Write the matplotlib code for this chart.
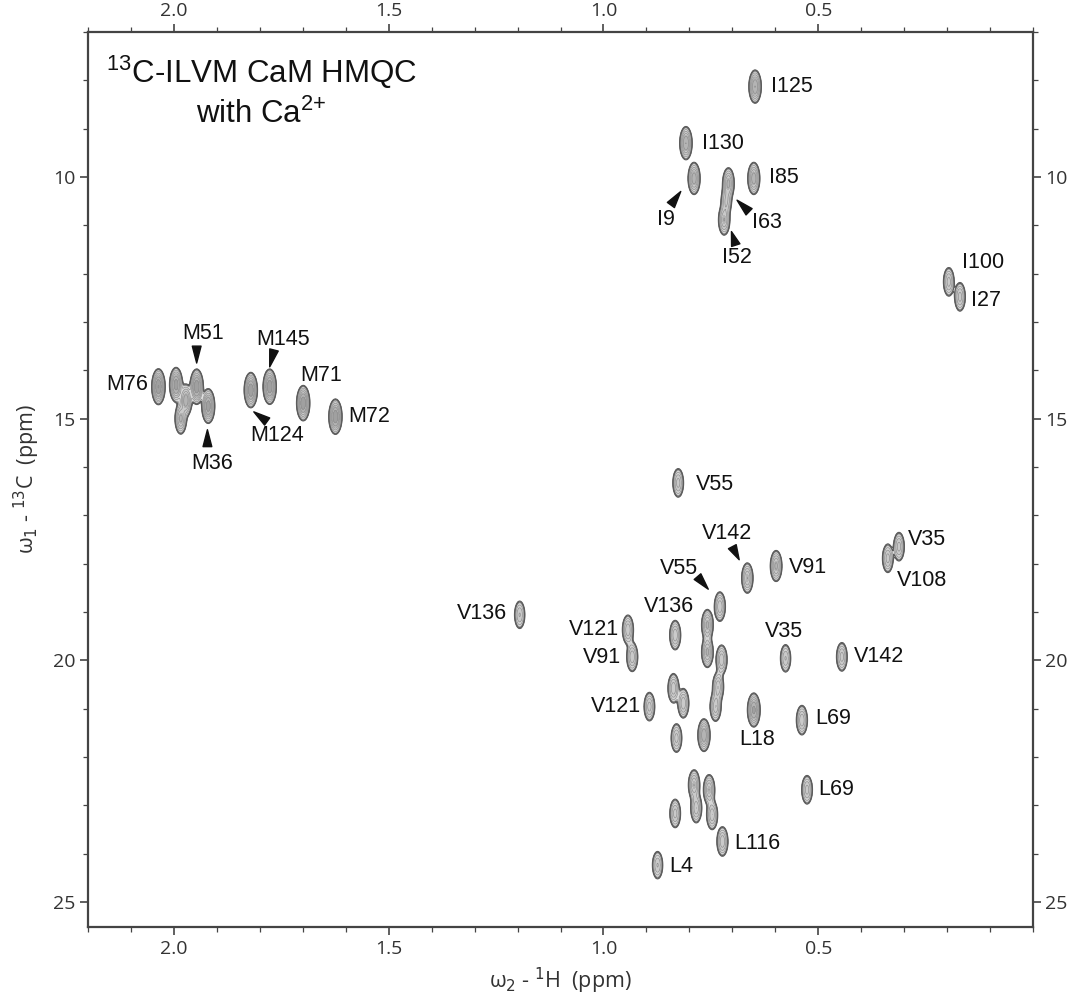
import numpy as np
import matplotlib
matplotlib.use("Agg")
import matplotlib.pyplot as plt
from matplotlib.ticker import FixedLocator, MultipleLocator

plt.rcParams['font.family'] = ['Liberation Sans', 'DejaVu Sans']
plt.rcParams['mathtext.fontset'] = 'custom'
plt.rcParams['mathtext.rm'] = 'Liberation Sans'
plt.rcParams['mathtext.it'] = 'Liberation Sans:italic'

# peak list: 1H shift, 13C shift, relative intensity
peak_h = [0.647, 0.808, 0.789, 0.709, 0.714, 0.719, 0.650, 0.196, 0.170,
          2.036, 1.995, 1.972, 1.984, 1.947, 1.920, 1.821, 1.777, 1.699, 1.624,
          0.826, 0.665, 0.598, 0.729, 0.833, 0.758, 0.758, 0.943, 0.933, 0.725,
          0.733, 0.739, 0.576, 0.445, 0.837, 0.814, 0.893, 0.650, 0.538, 0.830,
          0.766, 0.526, 0.789, 0.784, 0.754, 0.747, 0.833, 0.723, 0.874, 1.195,
          0.312, 0.338]
peak_c = [8.13, 9.30, 10.03, 10.13, 10.50, 10.89, 10.03, 12.17, 12.48,
          14.34, 14.30, 14.62, 15.00, 14.34, 14.74, 14.41, 14.34, 14.68, 14.96,
          16.33, 18.30, 18.05, 18.89, 19.48, 19.27, 19.83, 19.37, 19.93, 19.99,
          20.55, 20.96, 19.96, 19.93, 20.58, 20.89, 20.96, 21.03, 21.24, 21.61,
          21.55, 22.68, 22.58, 23.06, 22.68, 23.20, 23.17, 23.75, 24.24, 19.06,
          17.65, 17.89]
peak_amp = [14, 14, 12, 10, 6, 9, 12, 7, 7,
            22, 18, 12, 10, 20, 18, 20, 20, 20, 20,
            7, 9, 10, 8, 8, 10, 10, 8, 8, 8,
            8, 8, 6, 7, 8, 8, 7, 16, 8, 7,
            13, 7, 9, 8, 9, 8, 7, 8, 6, 6,
            7, 7]

# assignments
lab_text = ['I125', 'I130', 'I85', 'I9', 'I63', 'I52', 'I100', 'I27',
            'M76', 'M51', 'M36', 'M124', 'M145', 'M71', 'M72',
            'V55', 'V142', 'V91', 'V55', 'V136', 'V121', 'V91', 'V35', 'V142',
            'V121', 'L69', 'L18', 'L69', 'L116', 'L4', 'V136', 'V35', 'V108']
lab_h = [0.611, 0.770, 0.615, 0.855, 0.654, 0.689, 0.165, 0.144,
         2.061, 1.931, 1.910, 1.759, 1.745, 1.657, 1.594,
         0.784, 0.713, 0.568, 0.825, 0.847, 0.963, 0.958, 0.580, 0.418,
         0.913, 0.507, 0.642, 0.499, 0.696, 0.847, 1.224, 0.292, 0.316]
lab_c = [8.13, 9.30, 10.02, 10.89, 10.95, 11.66, 11.78, 12.55,
         14.30, 13.23, 15.92, 15.34, 13.37, 14.10, 14.96,
         16.37, 17.37, 18.09, 18.10, 18.89, 19.37, 19.95, 19.41, 19.93,
         20.96, 21.20, 21.65, 22.68, 23.79, 24.27, 19.03, 17.51, 18.34]
lab_ha = ['left', 'left', 'left', 'center', 'left', 'center', 'left', 'left',
          'right', 'center', 'center', 'center', 'center', 'center', 'left',
          'left', 'center', 'left', 'center', 'center', 'right', 'right', 'center', 'left',
          'right', 'left', 'center', 'left', 'left', 'left', 'right', 'left', 'left']

# pointer wedges: from (label side) -> to (peak side)
arr_h0 = [0.843, 0.661, 0.692, 1.947, 1.922, 1.783, 1.767, 0.700, 0.781]
arr_c0 = [10.58, 10.72, 11.41, 13.50, 15.58, 15.06, 13.58, 17.65, 18.27]
arr_h1 = [0.820, 0.689, 0.702, 1.947, 1.922, 1.814, 1.777, 0.684, 0.756]
arr_c1 = [10.30, 10.48, 11.13, 13.85, 15.23, 14.86, 13.93, 17.92, 18.53]

SX, SY = 0.0064, 0.15

h = np.linspace(0.0, 2.2, 1500)
c = np.linspace(7.0, 25.6, 760)
H, C = np.meshgrid(h, c)
Z = np.zeros_like(H)
for x0, y0, a in zip(peak_h, peak_c, peak_amp):
    Z += a * np.exp(-0.5 * ((H - x0) / SX) ** 2 - 0.5 * ((C - y0) / SY) ** 2)

fig = plt.figure(figsize=(10.78, 9.97), dpi=100)
ax = fig.add_axes([88 / 1078, 70 / 997, 945 / 1078, 895 / 997])

ax.contourf(H, C, Z, levels=[1, 2, 4, 8, 14, 100],
            colors=['#e0e0e0', '#d6d6d6', '#cacaca', '#b4b4b4', '#a0a0a0'])
ax.contour(H, C, Z, levels=1.0 * 1.55 ** np.arange(1, 9),
           colors='#8c8c8c', linewidths=0.45)
ax.contour(H, C, Z, levels=[1.0, 1.25], colors='#5c5c5c', linewidths=0.8)

for t, x, y, ha in zip(lab_text, lab_h, lab_c, lab_ha):
    ax.text(x, y, t, ha=ha, va='center', fontsize=15.5, color='#111111')

for x0, y0, x1, y1 in zip(arr_h0, arr_c0, arr_h1, arr_c1):
    ax.annotate('', xy=(x1, y1), xytext=(x0, y0),
                arrowprops=dict(arrowstyle='wedge,tail_width=0.45', color='#111111',
                                shrinkA=0, shrinkB=0, mutation_scale=14))

ax.text(2.158, 8.24, '$^{13}$C-ILVM CaM HMQC\nwith Ca$^{2{+}}$', ha='left', va='center',
        multialignment='center', fontsize=22.5, linespacing=1.3, color='#111111')

ax.set_xlim(2.2, 0.0)
ax.set_ylim(25.52, 7.0)

ax.xaxis.set_major_locator(FixedLocator([0.5, 1.0, 1.5, 2.0]))
ax.xaxis.set_minor_locator(MultipleLocator(0.1))
ax.yaxis.set_major_locator(FixedLocator([10, 15, 20, 25]))
ax.yaxis.set_minor_locator(MultipleLocator(1))
ax.set_xticklabels(['0.5', '1.0', '1.5', '2.0'])

ax.tick_params(which='both', direction='out', top=True, right=True,
               labeltop=True, labelright=True, color='#444444')
ax.tick_params(which='major', length=6, width=1.2, labelsize=14,
               labelcolor='#333333', pad=3)
ax.tick_params(which='minor', length=3.5, width=0.9)
for t in ax.xaxis.get_major_ticks() + ax.yaxis.get_major_ticks():
    t.label1.set_fontfamily(['Open Sans', 'DejaVu Sans'])
    t.label2.set_fontfamily(['Open Sans', 'DejaVu Sans'])

for s in ax.spines.values():
    s.set_linewidth(1.6)
    s.set_color('#444444')

ax.set_xlabel('ω$_2$ - $^1$H  (ppm)', fontsize=15.5, color='#333333', labelpad=6,
              fontfamily=['Open Sans', 'DejaVu Sans'])
ax.set_ylabel('ω$_1$ - $^{13}$C  (ppm)', fontsize=15.5, color='#333333', labelpad=8,
              fontfamily=['Open Sans', 'DejaVu Sans'])
ax.xaxis.label.set_math_fontfamily('dejavusans')
ax.yaxis.label.set_math_fontfamily('dejavusans')

fig.savefig('out.png', dpi=100, facecolor='white')
